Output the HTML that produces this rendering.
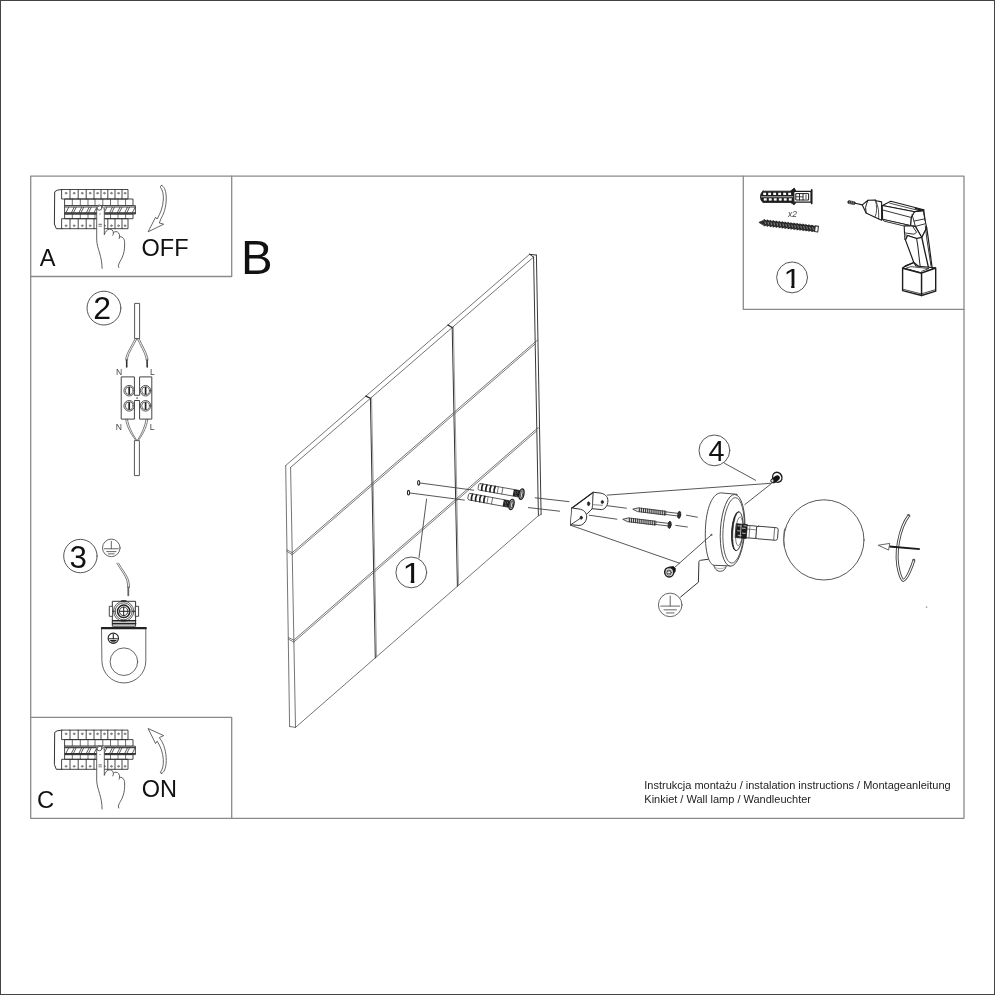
<!DOCTYPE html>
<html lang="pl"><head><meta charset="utf-8"><title>Instrukcja montażu</title>
<style>
html,body{margin:0;padding:0;background:#fff;}
body{width:995px;height:995px;overflow:hidden;position:relative;}
#page{position:absolute;left:0;top:0;width:995px;height:995px;box-sizing:border-box;border:1px solid #444;pointer-events:none;}
svg{display:block;font-family:"Liberation Sans",Arial,sans-serif;will-change:transform;}
</style></head><body>
<svg width="995" height="995" viewBox="0 0 995 995" stroke-linecap="round" stroke-linejoin="round">
<rect width="995" height="995" fill="#fff"/>
<rect x="30.7" y="176.2" width="933.3" height="642.1" fill="none" stroke="#8a8a8a" stroke-width="1.3"/>
<path d="M30.7 276.5 L231.7 276.5 L231.7 176.2" stroke="#8a8a8a" stroke-width="1.3" fill="none" />
<path d="M30.7 717.4 L231.7 717.4 L231.7 818.3" stroke="#8a8a8a" stroke-width="1.3" fill="none" />
<path d="M743.3 176.2 L743.3 309.4 L964.0 309.4" stroke="#8a8a8a" stroke-width="1.3" fill="none" />
<text x="39.8" y="265.9" font-size="23.6" fill="#111" text-anchor="start" >A</text>
<text x="36.9" y="808.0" font-size="23.8" fill="#111" text-anchor="start" >C</text>
<text transform="translate(241.1 273.9) scale(0.965 1)" font-size="49" fill="#111">B</text>
<text x="141.5" y="256.2" font-size="23.5" fill="#111" text-anchor="start" >OFF</text>
<text x="141.8" y="796.9" font-size="23.5" fill="#111" text-anchor="start" >ON</text>
<text x="644.3" y="788.6" font-size="11" fill="#222" text-anchor="start" >Instrukcja montażu / instalation instructions / Montageanleitung</text>
<text x="644.3" y="803.1" font-size="11" fill="#222" text-anchor="start" >Kinkiet / Wall lamp / Wandleuchter</text>
<circle class="nc" cx="103.95" cy="308.1" r="16.9" stroke="#555" stroke-width="1" fill="none"/>
<text transform="translate(93.3 318.9) scale(1.0 1)" font-size="32" fill="#111" >2</text>
<circle class="nc" cx="80.4" cy="556.05" r="16.7" stroke="#555" stroke-width="1" fill="none"/>
<text transform="translate(69.45 567.8) scale(1.0 1)" font-size="31.3" fill="#111" >3</text>
<circle class="nc" cx="411.3" cy="572.4" r="15.4" stroke="#555" stroke-width="1" fill="none"/>
<clipPath id="c1w"><rect x="0" y="-23.04" width="17.28" height="20.16"/><rect x="6.91" y="-3.17" width="3.02" height="3.47"/></clipPath>
<text transform="translate(402.5 582.8) scale(1.19 1)" font-size="28.8" fill="#111" clip-path="url(#c1w)">1</text>
<circle class="nc" cx="714.4" cy="450.4" r="15.4" stroke="#555" stroke-width="1" fill="none"/>
<text transform="translate(708.5 460.8) scale(1.0 1)" font-size="28.8" fill="#111" >4</text>
<circle class="nc" cx="792.1" cy="277.4" r="15.45" stroke="#555" stroke-width="1" fill="none"/>
<clipPath id="c1b"><rect x="0" y="-22.80" width="17.10" height="19.95"/><rect x="6.84" y="-3.14" width="2.99" height="3.44"/></clipPath>
<text transform="translate(783.45 287.8) scale(1.126 1)" font-size="28.5" fill="#111" clip-path="url(#c1b)">1</text>
<path d="M62 189.5 L57.2 190.2 L54.7 191.8 L54.4 224 L56.3 228.7 L62 228.7" stroke="#333" stroke-width="1.0" fill="none" />
<rect x="62" y="189.5" width="66" height="9.5" fill="none" stroke="#333" stroke-width="0.9"/>
<line x1="70" y1="189.5" x2="70" y2="199" stroke="#333" stroke-width="0.9" />
<line x1="78.2" y1="189.5" x2="78.2" y2="199" stroke="#333" stroke-width="0.9" />
<line x1="86.2" y1="189.5" x2="86.2" y2="199" stroke="#333" stroke-width="0.9" />
<line x1="94" y1="189.5" x2="94" y2="199" stroke="#333" stroke-width="0.9" />
<line x1="101" y1="189.5" x2="101" y2="199" stroke="#333" stroke-width="0.9" />
<line x1="107.8" y1="189.5" x2="107.8" y2="199" stroke="#333" stroke-width="0.9" />
<line x1="115" y1="189.5" x2="115" y2="199" stroke="#333" stroke-width="0.9" />
<line x1="122" y1="189.5" x2="122" y2="199" stroke="#333" stroke-width="0.9" />
<circle cx="66.0" cy="193.2" r="0.9" stroke="#666" stroke-width="0.6" fill="#999"/>
<circle cx="74.1" cy="193.2" r="0.9" stroke="#666" stroke-width="0.6" fill="#999"/>
<circle cx="82.2" cy="193.2" r="0.9" stroke="#666" stroke-width="0.6" fill="#999"/>
<circle cx="90.1" cy="193.2" r="0.9" stroke="#666" stroke-width="0.6" fill="#999"/>
<circle cx="97.5" cy="193.2" r="0.9" stroke="#666" stroke-width="0.6" fill="#999"/>
<circle cx="104.4" cy="193.2" r="0.9" stroke="#666" stroke-width="0.6" fill="#999"/>
<circle cx="111.4" cy="193.2" r="0.9" stroke="#666" stroke-width="0.6" fill="#999"/>
<circle cx="118.5" cy="193.2" r="0.9" stroke="#666" stroke-width="0.6" fill="#999"/>
<circle cx="125.0" cy="193.2" r="0.9" stroke="#666" stroke-width="0.6" fill="#999"/>
<rect x="65" y="199" width="68" height="6.6" fill="none" stroke="#333" stroke-width="0.9"/>
<line x1="72.3" y1="199" x2="72.3" y2="205.6" stroke="#333" stroke-width="0.7" />
<line x1="80.3" y1="199" x2="80.3" y2="205.6" stroke="#333" stroke-width="0.7" />
<line x1="88" y1="199" x2="88" y2="205.6" stroke="#333" stroke-width="0.7" />
<line x1="95" y1="199" x2="95" y2="205.6" stroke="#333" stroke-width="0.7" />
<line x1="102.8" y1="199" x2="102.8" y2="205.6" stroke="#333" stroke-width="0.7" />
<line x1="110.5" y1="199" x2="110.5" y2="205.6" stroke="#333" stroke-width="0.7" />
<line x1="118" y1="199" x2="118" y2="205.6" stroke="#333" stroke-width="0.7" />
<line x1="125.6" y1="199" x2="125.6" y2="205.6" stroke="#333" stroke-width="0.7" />
<rect x="65" y="205.6" width="70.4" height="8.4" fill="#fff" stroke="#333" stroke-width="0.9"/>
<line x1="65" y1="207.0" x2="135.4" y2="207.0" stroke="#444" stroke-width="1.2" />
<line x1="65" y1="213.0" x2="135.4" y2="213.0" stroke="#333" stroke-width="1.4" />
<line x1="66" y1="212.6" x2="68.6" y2="207.4" stroke="#333" stroke-width="0.8" />
<line x1="71.5" y1="212.6" x2="74.1" y2="207.4" stroke="#333" stroke-width="0.8" />
<line x1="73.5" y1="212.6" x2="76.1" y2="207.4" stroke="#333" stroke-width="0.8" />
<line x1="79.0" y1="212.6" x2="81.6" y2="207.4" stroke="#333" stroke-width="0.8" />
<line x1="81" y1="212.6" x2="83.6" y2="207.4" stroke="#333" stroke-width="0.8" />
<line x1="86.5" y1="212.6" x2="89.1" y2="207.4" stroke="#333" stroke-width="0.8" />
<line x1="88.6" y1="212.6" x2="91.19999999999999" y2="207.4" stroke="#333" stroke-width="0.8" />
<line x1="94.1" y1="212.6" x2="96.69999999999999" y2="207.4" stroke="#333" stroke-width="0.8" />
<line x1="104.2" y1="212.6" x2="106.8" y2="207.4" stroke="#333" stroke-width="0.8" />
<line x1="109.7" y1="212.6" x2="112.3" y2="207.4" stroke="#333" stroke-width="0.8" />
<line x1="111.8" y1="212.6" x2="114.39999999999999" y2="207.4" stroke="#333" stroke-width="0.8" />
<line x1="117.3" y1="212.6" x2="119.89999999999999" y2="207.4" stroke="#333" stroke-width="0.8" />
<line x1="119.3" y1="212.6" x2="121.89999999999999" y2="207.4" stroke="#333" stroke-width="0.8" />
<line x1="124.8" y1="212.6" x2="127.39999999999999" y2="207.4" stroke="#333" stroke-width="0.8" />
<line x1="126.9" y1="212.6" x2="129.5" y2="207.4" stroke="#333" stroke-width="0.8" />
<line x1="132.4" y1="212.6" x2="135.0" y2="207.4" stroke="#333" stroke-width="0.8" />
<rect x="65" y="214" width="68" height="4.7" fill="none" stroke="#333" stroke-width="0.9"/>
<line x1="72.3" y1="214" x2="72.3" y2="218.7" stroke="#333" stroke-width="0.7" />
<line x1="80.3" y1="214" x2="80.3" y2="218.7" stroke="#333" stroke-width="0.7" />
<line x1="88" y1="214" x2="88" y2="218.7" stroke="#333" stroke-width="0.7" />
<line x1="95" y1="214" x2="95" y2="218.7" stroke="#333" stroke-width="0.7" />
<line x1="102.8" y1="214" x2="102.8" y2="218.7" stroke="#333" stroke-width="0.7" />
<line x1="110.5" y1="214" x2="110.5" y2="218.7" stroke="#333" stroke-width="0.7" />
<line x1="118" y1="214" x2="118" y2="218.7" stroke="#333" stroke-width="0.7" />
<line x1="125.6" y1="214" x2="125.6" y2="218.7" stroke="#333" stroke-width="0.7" />
<rect x="62" y="218.7" width="66" height="10" fill="none" stroke="#333" stroke-width="0.9"/>
<line x1="70" y1="218.7" x2="70" y2="228.7" stroke="#333" stroke-width="0.9" />
<line x1="78.2" y1="218.7" x2="78.2" y2="228.7" stroke="#333" stroke-width="0.9" />
<line x1="86.2" y1="218.7" x2="86.2" y2="228.7" stroke="#333" stroke-width="0.9" />
<line x1="94" y1="218.7" x2="94" y2="228.7" stroke="#333" stroke-width="0.9" />
<line x1="101" y1="218.7" x2="101" y2="228.7" stroke="#333" stroke-width="0.9" />
<line x1="107.8" y1="218.7" x2="107.8" y2="228.7" stroke="#333" stroke-width="0.9" />
<line x1="115" y1="218.7" x2="115" y2="228.7" stroke="#333" stroke-width="0.9" />
<line x1="122" y1="218.7" x2="122" y2="228.7" stroke="#333" stroke-width="0.9" />
<circle cx="66.0" cy="225.7" r="0.9" stroke="#666" stroke-width="0.6" fill="#999"/>
<circle cx="74.1" cy="225.7" r="0.9" stroke="#666" stroke-width="0.6" fill="#999"/>
<circle cx="82.2" cy="225.7" r="0.9" stroke="#666" stroke-width="0.6" fill="#999"/>
<circle cx="90.1" cy="225.7" r="0.9" stroke="#666" stroke-width="0.6" fill="#999"/>
<circle cx="97.5" cy="225.7" r="0.9" stroke="#666" stroke-width="0.6" fill="#999"/>
<circle cx="104.4" cy="225.7" r="0.9" stroke="#666" stroke-width="0.6" fill="#999"/>
<circle cx="111.4" cy="225.7" r="0.9" stroke="#666" stroke-width="0.6" fill="#999"/>
<circle cx="118.5" cy="225.7" r="0.9" stroke="#666" stroke-width="0.6" fill="#999"/>
<circle cx="125.0" cy="225.7" r="0.9" stroke="#666" stroke-width="0.6" fill="#999"/>
<path d="M96.7 206 L96.7 240.3 C97 245 98.2 248.3 99.6 253 C101 258 102 262 102.1 268.4 L118.8 267.4 L118.3 265.4 C119.5 262 121 260 122.2 257.5 C124 253 124.5 250 124.6 246 L124.6 242.3 C124.6 238.5 122.5 236.3 120.4 236.5 L119.6 236.8 C119.6 233.5 118 231.6 116 231.6 C114.8 231.6 114.2 232 113.6 232.6 C113.2 230.3 111.6 229 109.6 229.2 C107 229.5 105.3 231.5 104.3 234.8 L104.3 206 Z" fill="#fff" stroke="none"/>
<path d="M96.7 209 L96.7 240.3 C97 245 98.2 248.3 99.6 253 C101 258 102 262 102.1 268.4" stroke="#444" stroke-width="0.85" fill="none" />
<path d="M104.3 209 L104.3 234.8 C105.3 231.5 107 229.5 109.6 229.2 C111.6 229 113.4 230.5 113.4 233 C113.4 234 113.1 234.8 112.8 235.3" stroke="#444" stroke-width="0.85" fill="none" />
<path d="M113.6 232.6 C114.2 232 114.8 231.6 116 231.6 C118.2 231.6 119.8 233.8 119.6 236.8 C119.5 237.6 119.3 238.2 119.1 238.6" stroke="#444" stroke-width="0.85" fill="none" />
<path d="M119.6 236.8 C121.5 236 124.6 238 124.6 242.3 L124.6 246 C124.5 250 124 253 122.2 257.5 C121 260 119.5 262 118.3 265.4 L118.8 267.4" stroke="#444" stroke-width="0.85" fill="none" />
<circle cx="99.4" cy="207.6" r="2.6" stroke="#444" stroke-width="0.9" fill="#fff"/>
<path d="M96.7 209 C96.6 204.5 104.4 204.5 104.3 209" stroke="#444" stroke-width="0.85" fill="none" />
<line x1="99.6" y1="214" x2="100.6" y2="214" stroke="#777" stroke-width="0.7" />
<line x1="98.9" y1="224.3" x2="101.5" y2="224.3" stroke="#555" stroke-width="0.9" />
<line x1="98.9" y1="226.2" x2="101.5" y2="226.2" stroke="#666" stroke-width="0.8" />
<path d="M62 730.1 L57.2 730.8 L54.7 732.4000000000001 L54.4 764.6 L56.3 769.3 L62 769.3" stroke="#333" stroke-width="1.0" fill="none" />
<rect x="62" y="730.1" width="66" height="9.5" fill="none" stroke="#333" stroke-width="0.9"/>
<line x1="70" y1="730.1" x2="70" y2="739.6" stroke="#333" stroke-width="0.9" />
<line x1="78.2" y1="730.1" x2="78.2" y2="739.6" stroke="#333" stroke-width="0.9" />
<line x1="86.2" y1="730.1" x2="86.2" y2="739.6" stroke="#333" stroke-width="0.9" />
<line x1="94" y1="730.1" x2="94" y2="739.6" stroke="#333" stroke-width="0.9" />
<line x1="101" y1="730.1" x2="101" y2="739.6" stroke="#333" stroke-width="0.9" />
<line x1="107.8" y1="730.1" x2="107.8" y2="739.6" stroke="#333" stroke-width="0.9" />
<line x1="115" y1="730.1" x2="115" y2="739.6" stroke="#333" stroke-width="0.9" />
<line x1="122" y1="730.1" x2="122" y2="739.6" stroke="#333" stroke-width="0.9" />
<circle cx="66.0" cy="733.8" r="0.9" stroke="#666" stroke-width="0.6" fill="#999"/>
<circle cx="74.1" cy="733.8" r="0.9" stroke="#666" stroke-width="0.6" fill="#999"/>
<circle cx="82.2" cy="733.8" r="0.9" stroke="#666" stroke-width="0.6" fill="#999"/>
<circle cx="90.1" cy="733.8" r="0.9" stroke="#666" stroke-width="0.6" fill="#999"/>
<circle cx="97.5" cy="733.8" r="0.9" stroke="#666" stroke-width="0.6" fill="#999"/>
<circle cx="104.4" cy="733.8" r="0.9" stroke="#666" stroke-width="0.6" fill="#999"/>
<circle cx="111.4" cy="733.8" r="0.9" stroke="#666" stroke-width="0.6" fill="#999"/>
<circle cx="118.5" cy="733.8" r="0.9" stroke="#666" stroke-width="0.6" fill="#999"/>
<circle cx="125.0" cy="733.8" r="0.9" stroke="#666" stroke-width="0.6" fill="#999"/>
<rect x="65" y="739.6" width="68" height="6.6" fill="none" stroke="#333" stroke-width="0.9"/>
<line x1="72.3" y1="739.6" x2="72.3" y2="746.2" stroke="#333" stroke-width="0.7" />
<line x1="80.3" y1="739.6" x2="80.3" y2="746.2" stroke="#333" stroke-width="0.7" />
<line x1="88" y1="739.6" x2="88" y2="746.2" stroke="#333" stroke-width="0.7" />
<line x1="95" y1="739.6" x2="95" y2="746.2" stroke="#333" stroke-width="0.7" />
<line x1="102.8" y1="739.6" x2="102.8" y2="746.2" stroke="#333" stroke-width="0.7" />
<line x1="110.5" y1="739.6" x2="110.5" y2="746.2" stroke="#333" stroke-width="0.7" />
<line x1="118" y1="739.6" x2="118" y2="746.2" stroke="#333" stroke-width="0.7" />
<line x1="125.6" y1="739.6" x2="125.6" y2="746.2" stroke="#333" stroke-width="0.7" />
<rect x="65" y="746.2" width="70.4" height="8.4" fill="#fff" stroke="#333" stroke-width="0.9"/>
<line x1="65" y1="747.6" x2="135.4" y2="747.6" stroke="#444" stroke-width="1.2" />
<line x1="65" y1="753.6" x2="135.4" y2="753.6" stroke="#333" stroke-width="1.4" />
<line x1="66" y1="753.2" x2="68.6" y2="748.0" stroke="#333" stroke-width="0.8" />
<line x1="71.5" y1="753.2" x2="74.1" y2="748.0" stroke="#333" stroke-width="0.8" />
<line x1="73.5" y1="753.2" x2="76.1" y2="748.0" stroke="#333" stroke-width="0.8" />
<line x1="79.0" y1="753.2" x2="81.6" y2="748.0" stroke="#333" stroke-width="0.8" />
<line x1="81" y1="753.2" x2="83.6" y2="748.0" stroke="#333" stroke-width="0.8" />
<line x1="86.5" y1="753.2" x2="89.1" y2="748.0" stroke="#333" stroke-width="0.8" />
<line x1="88.6" y1="753.2" x2="91.19999999999999" y2="748.0" stroke="#333" stroke-width="0.8" />
<line x1="94.1" y1="753.2" x2="96.69999999999999" y2="748.0" stroke="#333" stroke-width="0.8" />
<line x1="104.2" y1="753.2" x2="106.8" y2="748.0" stroke="#333" stroke-width="0.8" />
<line x1="109.7" y1="753.2" x2="112.3" y2="748.0" stroke="#333" stroke-width="0.8" />
<line x1="111.8" y1="753.2" x2="114.39999999999999" y2="748.0" stroke="#333" stroke-width="0.8" />
<line x1="117.3" y1="753.2" x2="119.89999999999999" y2="748.0" stroke="#333" stroke-width="0.8" />
<line x1="119.3" y1="753.2" x2="121.89999999999999" y2="748.0" stroke="#333" stroke-width="0.8" />
<line x1="124.8" y1="753.2" x2="127.39999999999999" y2="748.0" stroke="#333" stroke-width="0.8" />
<line x1="126.9" y1="753.2" x2="129.5" y2="748.0" stroke="#333" stroke-width="0.8" />
<line x1="132.4" y1="753.2" x2="135.0" y2="748.0" stroke="#333" stroke-width="0.8" />
<rect x="65" y="754.6" width="68" height="4.7" fill="none" stroke="#333" stroke-width="0.9"/>
<line x1="72.3" y1="754.6" x2="72.3" y2="759.3" stroke="#333" stroke-width="0.7" />
<line x1="80.3" y1="754.6" x2="80.3" y2="759.3" stroke="#333" stroke-width="0.7" />
<line x1="88" y1="754.6" x2="88" y2="759.3" stroke="#333" stroke-width="0.7" />
<line x1="95" y1="754.6" x2="95" y2="759.3" stroke="#333" stroke-width="0.7" />
<line x1="102.8" y1="754.6" x2="102.8" y2="759.3" stroke="#333" stroke-width="0.7" />
<line x1="110.5" y1="754.6" x2="110.5" y2="759.3" stroke="#333" stroke-width="0.7" />
<line x1="118" y1="754.6" x2="118" y2="759.3" stroke="#333" stroke-width="0.7" />
<line x1="125.6" y1="754.6" x2="125.6" y2="759.3" stroke="#333" stroke-width="0.7" />
<rect x="62" y="759.3" width="66" height="10" fill="none" stroke="#333" stroke-width="0.9"/>
<line x1="70" y1="759.3" x2="70" y2="769.3" stroke="#333" stroke-width="0.9" />
<line x1="78.2" y1="759.3" x2="78.2" y2="769.3" stroke="#333" stroke-width="0.9" />
<line x1="86.2" y1="759.3" x2="86.2" y2="769.3" stroke="#333" stroke-width="0.9" />
<line x1="94" y1="759.3" x2="94" y2="769.3" stroke="#333" stroke-width="0.9" />
<line x1="101" y1="759.3" x2="101" y2="769.3" stroke="#333" stroke-width="0.9" />
<line x1="107.8" y1="759.3" x2="107.8" y2="769.3" stroke="#333" stroke-width="0.9" />
<line x1="115" y1="759.3" x2="115" y2="769.3" stroke="#333" stroke-width="0.9" />
<line x1="122" y1="759.3" x2="122" y2="769.3" stroke="#333" stroke-width="0.9" />
<circle cx="66.0" cy="766.3" r="0.9" stroke="#666" stroke-width="0.6" fill="#999"/>
<circle cx="74.1" cy="766.3" r="0.9" stroke="#666" stroke-width="0.6" fill="#999"/>
<circle cx="82.2" cy="766.3" r="0.9" stroke="#666" stroke-width="0.6" fill="#999"/>
<circle cx="90.1" cy="766.3" r="0.9" stroke="#666" stroke-width="0.6" fill="#999"/>
<circle cx="97.5" cy="766.3" r="0.9" stroke="#666" stroke-width="0.6" fill="#999"/>
<circle cx="104.4" cy="766.3" r="0.9" stroke="#666" stroke-width="0.6" fill="#999"/>
<circle cx="111.4" cy="766.3" r="0.9" stroke="#666" stroke-width="0.6" fill="#999"/>
<circle cx="118.5" cy="766.3" r="0.9" stroke="#666" stroke-width="0.6" fill="#999"/>
<circle cx="125.0" cy="766.3" r="0.9" stroke="#666" stroke-width="0.6" fill="#999"/>
<path d="M96.7 746.6 L96.7 780.9000000000001 C97 785.6 98.2 788.9000000000001 99.6 793.6 C101 798.6 102 802.6 102.1 809.0 L118.8 808.0 L118.3 806.0 C119.5 802.6 121 800.6 122.2 798.1 C124 793.6 124.5 790.6 124.6 786.6 L124.6 782.9000000000001 C124.6 779.1 122.5 776.9000000000001 120.4 777.1 L119.6 777.4000000000001 C119.6 774.1 118 772.2 116 772.2 C114.8 772.2 114.2 772.6 113.6 773.2 C113.2 770.9000000000001 111.6 769.6 109.6 769.8 C107 770.1 105.3 772.1 104.3 775.4000000000001 L104.3 746.6 Z" fill="#fff" stroke="none"/>
<path d="M96.7 749.6 L96.7 780.9000000000001 C97 785.6 98.2 788.9000000000001 99.6 793.6 C101 798.6 102 802.6 102.1 809.0" stroke="#444" stroke-width="0.85" fill="none" />
<path d="M104.3 749.6 L104.3 775.4000000000001 C105.3 772.1 107 770.1 109.6 769.8 C111.6 769.6 113.4 771.1 113.4 773.6 C113.4 774.6 113.1 775.4000000000001 112.8 775.9000000000001" stroke="#444" stroke-width="0.85" fill="none" />
<path d="M113.6 773.2 C114.2 772.6 114.8 772.2 116 772.2 C118.2 772.2 119.8 774.4000000000001 119.6 777.4000000000001 C119.5 778.2 119.3 778.8 119.1 779.2" stroke="#444" stroke-width="0.85" fill="none" />
<path d="M119.6 777.4000000000001 C121.5 776.6 124.6 778.6 124.6 782.9000000000001 L124.6 786.6 C124.5 790.6 124 793.6 122.2 798.1 C121 800.6 119.5 802.6 118.3 806.0 L118.8 808.0" stroke="#444" stroke-width="0.85" fill="none" />
<circle cx="99.4" cy="748.2" r="2.6" stroke="#444" stroke-width="0.9" fill="#fff"/>
<path d="M96.7 749.6 C96.6 745.1 104.4 745.1 104.3 749.6" stroke="#444" stroke-width="0.85" fill="none" />
<line x1="99.6" y1="754.6" x2="100.6" y2="754.6" stroke="#777" stroke-width="0.7" />
<line x1="98.9" y1="764.9000000000001" x2="101.5" y2="764.9000000000001" stroke="#555" stroke-width="0.9" />
<line x1="98.9" y1="766.8" x2="101.5" y2="766.8" stroke="#666" stroke-width="0.8" />
<path d="M161.7 185.5 C164.2 186.5 165.6 190 166.1 195 C166.8 203 165 212 161.2 218.2 L159.3 223 L163.7 224.2 L148.1 231.8 L155.6 217.2 L157.1 219 C160.4 213.5 162.9 207 163.3 200 C163.6 194.5 162.8 190.5 160.6 187.6 C160.1 186.2 160.6 185.4 161.7 185.5 Z" stroke="#555" stroke-width="0.9" fill="#fff" />
<path d="M161.7 773.3 C164.2 772.5 165.6 768.5 166.1 763.5 C166.8 755.5 165 746.5 161.2 740.3 L159.3 737.6 L163.7 735.6 L148.1 728.5 L155.6 743.6 L157.1 741.1 C160.4 746 162.9 752.5 163.3 759.5 C163.6 765 162.8 769 160.6 771.9 C160.1 773 160.6 773.5 161.7 773.3 Z" stroke="#555" stroke-width="0.9" fill="#fff" />
<rect x="135" y="303.4" width="4.6" height="35.2" fill="#fff" stroke="#444" stroke-width="0.9"/>
<path d="M135.0 339 C132.1 345 127.1 352 125.8 358 L125.8 360" stroke="#444" stroke-width="0.7" fill="none" />
<path d="M139.3 339 C141.9 345 146.4 352 147.8 358 L147.9 360" stroke="#444" stroke-width="0.7" fill="none" />
<path d="M136.8 339 C133.9 345 128.9 352 127.60000000000001 358 L127.60000000000001 360" stroke="#444" stroke-width="0.7" fill="none" />
<path d="M137.5 339 C140.1 345 144.6 352 146.0 358 L146.1 360" stroke="#444" stroke-width="0.7" fill="none" />
<line x1="126.7" y1="360" x2="126.7" y2="367" stroke="#333" stroke-width="1.6" />
<line x1="147.1" y1="360" x2="147.2" y2="367" stroke="#333" stroke-width="1.6" />
<text x="116" y="375.2" font-size="8.6" fill="#444" text-anchor="start" >N</text>
<text x="150" y="375.2" font-size="8.6" fill="#444" text-anchor="start" >L</text>
<text x="115.8" y="430" font-size="8.6" fill="#444" text-anchor="start" >N</text>
<text x="149.7" y="430" font-size="8.6" fill="#444" text-anchor="start" >L</text>
<path d="M121.6 376.9 H134.4 V395.3 H139.6 V376.9 H151.8 V419.1 H139.6 V400.5 H134.4 V419.1 H121.6 Z" stroke="#444" stroke-width="1.0" fill="none" />
<circle cx="137" cy="398" r="0.5" stroke="#555" stroke-width="0.5" fill="#555"/>
<circle cx="129.2" cy="390.7" r="5.3" stroke="#444" stroke-width="0.9" fill="none"/>
<circle cx="129.2" cy="390.7" r="3.9" stroke="#444" stroke-width="0.8" fill="none"/>
<line x1="129.2" y1="387.7" x2="129.2" y2="393.7" stroke="#222" stroke-width="1.7" />
<circle cx="129.2" cy="405.8" r="5.3" stroke="#444" stroke-width="0.9" fill="none"/>
<circle cx="129.2" cy="405.8" r="3.9" stroke="#444" stroke-width="0.8" fill="none"/>
<line x1="129.2" y1="402.8" x2="129.2" y2="408.8" stroke="#222" stroke-width="1.7" />
<circle cx="145.6" cy="390.7" r="5.3" stroke="#444" stroke-width="0.9" fill="none"/>
<circle cx="145.6" cy="390.7" r="3.9" stroke="#444" stroke-width="0.8" fill="none"/>
<line x1="145.6" y1="387.7" x2="145.6" y2="393.7" stroke="#222" stroke-width="1.7" />
<circle cx="145.6" cy="405.8" r="5.3" stroke="#444" stroke-width="0.9" fill="none"/>
<circle cx="145.6" cy="405.8" r="3.9" stroke="#444" stroke-width="0.8" fill="none"/>
<line x1="145.6" y1="402.8" x2="145.6" y2="408.8" stroke="#222" stroke-width="1.7" />
<path d="M125.69999999999999 419.3 C126.6 426 130.1 433 135.46 440" stroke="#444" stroke-width="0.7" fill="none" />
<path d="M147.8 419.3 C146.9 426 143.9 433 138.73999999999998 440" stroke="#444" stroke-width="0.7" fill="none" />
<path d="M127.5 419.3 C128.4 426 131.9 433 136.54 440" stroke="#444" stroke-width="0.7" fill="none" />
<path d="M146.0 419.3 C145.1 426 142.1 433 137.66 440" stroke="#444" stroke-width="0.7" fill="none" />
<rect x="134.8" y="440.6" width="4.6" height="35" fill="#fff" stroke="#444" stroke-width="0.9"/>
<circle cx="111.3" cy="547.9" r="8.8" stroke="#555" stroke-width="0.9" fill="none"/>
<line x1="111.3" y1="541.3" x2="111.3" y2="548.78" stroke="#555" stroke-width="0.9" />
<line x1="104.25999999999999" y1="548.78" x2="118.34" y2="548.78" stroke="#555" stroke-width="0.9" />
<line x1="106.636" y1="551.596" x2="115.964" y2="551.596" stroke="#555" stroke-width="0.9" />
<line x1="108.396" y1="553.884" x2="114.204" y2="553.884" stroke="#555" stroke-width="0.9" />
<path d="M116.8 563.2 C120.1 569 125.1 575 126.69999999999999 580 C127.5 583 127.69999999999999 585 127.69999999999999 587.5" stroke="#444" stroke-width="0.7" fill="none" />
<path d="M118.60000000000001 563.2 C121.9 569 126.9 575 128.5 580 C129.3 583 129.5 585 129.5 587.5" stroke="#444" stroke-width="0.7" fill="none" />
<line x1="128.3" y1="587.5" x2="128.3" y2="595.3" stroke="#666" stroke-width="1.8" />
<rect x="112.7" y="601.3" width="22.9" height="24.9" fill="#fff" stroke="#333" stroke-width="1"/>
<rect x="109.7" y="606.3" width="3" height="10" fill="#fff" stroke="#333" stroke-width="0.9"/>
<rect x="135.6" y="606.3" width="3" height="10" fill="#fff" stroke="#333" stroke-width="0.9"/>
<circle cx="123.7" cy="611.3" r="10.1" stroke="#333" stroke-width="0.8" fill="none"/>
<circle cx="123.7" cy="611.3" r="8.5" stroke="#333" stroke-width="0.8" fill="none"/>
<circle cx="123.7" cy="611.3" r="6.2" stroke="#222" stroke-width="1.5" fill="none"/>
<circle cx="123.7" cy="611.3" r="4.3" stroke="#222" stroke-width="0.9" fill="none"/>
<line x1="119.4" y1="611.3" x2="128" y2="611.3" stroke="#222" stroke-width="1" />
<line x1="123.7" y1="607" x2="123.7" y2="615.6" stroke="#222" stroke-width="1" />
<line x1="112.7" y1="611.3" x2="115.2" y2="611.3" stroke="#333" stroke-width="0.9" />
<line x1="132.2" y1="611.3" x2="135.6" y2="611.3" stroke="#333" stroke-width="0.9" />
<line x1="121.5" y1="600.9" x2="126" y2="600.9" stroke="#222" stroke-width="1.4" />
<line x1="112.7" y1="620.7" x2="135.6" y2="620.7" stroke="#222" stroke-width="1.4" />
<line x1="112.7" y1="623.6" x2="135.6" y2="623.6" stroke="#222" stroke-width="1.6" />
<path d="M101.9 628.2 H145.8 V661 A21.95 21.95 0 0 1 101.9 661 Z" stroke="#555" stroke-width="0.9" fill="#fff" />
<line x1="101.9" y1="628.2" x2="145.8" y2="628.2" stroke="#222" stroke-width="2.2" />
<circle cx="123.9" cy="661.7" r="13.8" stroke="#555" stroke-width="0.9" fill="none"/>
<circle cx="113.3" cy="638.3" r="5.2" stroke="#222" stroke-width="1.1" fill="none"/>
<line x1="113.3" y1="634.4" x2="113.3" y2="638.8199999999999" stroke="#222" stroke-width="1.1" />
<line x1="109.14" y1="638.8199999999999" x2="117.46" y2="638.8199999999999" stroke="#222" stroke-width="1.1" />
<line x1="110.544" y1="640.4839999999999" x2="116.056" y2="640.4839999999999" stroke="#222" stroke-width="1.1" />
<line x1="111.584" y1="641.8359999999999" x2="115.01599999999999" y2="641.8359999999999" stroke="#222" stroke-width="1.1" />
<path d="M285.7 465.5 L529.6 254.3" stroke="#5c5c5c" stroke-width="0.85" fill="none" />
<path d="M290.6 467.4 L533.6 257.1" stroke="#5c5c5c" stroke-width="0.85" fill="none" />
<path d="M529.6 254.3 L536.4 255.1" stroke="#333" stroke-width="1.0" fill="none" />
<path d="M529.6 254.3 L533.6 257.1" stroke="#333" stroke-width="1.0" fill="none" />
<path d="M533.6 257.1 L538.4 515.7" stroke="#3a3a3a" stroke-width="1.0" fill="none" />
<path d="M536.4 255.1 L541.1 514.4" stroke="#3a3a3a" stroke-width="1.0" fill="none" />
<path d="M538.4 515.7 L541.1 514.4" stroke="#5c5c5c" stroke-width="0.85" fill="none" />
<path d="M285.7 465.5 L289.6 726.5" stroke="#5c5c5c" stroke-width="0.85" fill="none" />
<path d="M290.6 467.4 L295.5 727.4" stroke="#5c5c5c" stroke-width="0.85" fill="none" />
<path d="M289.6 726.5 L295.5 727.4" stroke="#5c5c5c" stroke-width="0.85" fill="none" />
<path d="M295.5 727.4 L538.4 515.7" stroke="#5c5c5c" stroke-width="0.85" fill="none" />
<path d="M365.8 396.1 L370.4 398.3" stroke="#222" stroke-width="1.2" fill="none" />
<path d="M370.4 398.3 L375.3 657.9" stroke="#333" stroke-width="1.0" fill="none" />
<path d="M371.6 397.3 L376.5 656.9" stroke="#777" stroke-width="0.7" fill="none" />
<path d="M447.9 325.1 L452.2 327.6" stroke="#222" stroke-width="1.2" fill="none" />
<path d="M452.2 327.6 L457.4 586.3" stroke="#333" stroke-width="1.0" fill="none" />
<path d="M453.4 326.6 L458.6 585.3" stroke="#777" stroke-width="0.7" fill="none" />
<path d="M292.2 552.7 L535.2 341.9" stroke="#5c5c5c" stroke-width="0.85" fill="none" />
<path d="M292.2 554.7 L535.2 343.9" stroke="#5c5c5c" stroke-width="0.8" fill="none" />
<path d="M287.0 551.4 L292.2 554.7" stroke="#5c5c5c" stroke-width="0.8" fill="none" />
<path d="M287.0 549.9 L292.2 552.7" stroke="#5c5c5c" stroke-width="0.8" fill="none" />
<path d="M535.2 341.9 L537.9 340.2" stroke="#5c5c5c" stroke-width="0.8" fill="none" />
<path d="M293.9 640.0 L536.8 428.8" stroke="#5c5c5c" stroke-width="0.85" fill="none" />
<path d="M293.9 642.0 L536.8 430.8" stroke="#5c5c5c" stroke-width="0.8" fill="none" />
<path d="M288.3 639.1 L293.9 642.0" stroke="#5c5c5c" stroke-width="0.8" fill="none" />
<path d="M288.3 637.6 L293.9 640.0" stroke="#5c5c5c" stroke-width="0.8" fill="none" />
<path d="M536.8 428.8 L539.5 427.3" stroke="#5c5c5c" stroke-width="0.8" fill="none" />
<ellipse cx="418.7" cy="482.8" rx="1.1" ry="2.3" stroke="#222" stroke-width="1.1" fill="#fff" />
<ellipse cx="408.5" cy="492.7" rx="1.1" ry="2.3" stroke="#222" stroke-width="1.1" fill="#fff" />
<line x1="420" y1="483" x2="473.7" y2="490.2" stroke="#444" stroke-width="0.9" />
<line x1="410" y1="493" x2="464.3" y2="500.1" stroke="#444" stroke-width="0.9" />
<line x1="426.6" y1="499" x2="419" y2="557.8" stroke="#444" stroke-width="0.9" />
<g transform="translate(478.4 486.6) rotate(9.97)">
<rect x="0" y="-3.3" width="42.19794367718113" height="6.6" rx="1.5" fill="#fff" stroke="#444" stroke-width="0.8"/>
<path d="M3.9 -3.0 Q3.0 0 3.9 3.0" fill="none" stroke="#222" stroke-width="1.7"/>
<path d="M8.1 -3.0 Q7.199999999999999 0 8.1 3.0" fill="none" stroke="#222" stroke-width="1.7"/>
<path d="M12.3 -3.0 Q11.4 0 12.3 3.0" fill="none" stroke="#222" stroke-width="1.7"/>
<path d="M16.5 -3.0 Q15.6 0 16.5 3.0" fill="none" stroke="#222" stroke-width="1.7"/>
<line x1="19.7" y1="-3.3" x2="19.7" y2="3.3" stroke="#666" stroke-width="0.8"/>
<line x1="24.3" y1="-3.3" x2="24.3" y2="3.3" stroke="#555" stroke-width="0.8"/>
<rect x="35.39794367718113" y="-3.3" width="6.6" height="6.6" fill="#1e1e1e"/>
<path d="M36.69794367718113 -1.5 L38.19794367718113 0.5 M38.89794367718113 -2 L40.19794367718113 -0.4 M37.59794367718113 1.8 L39.19794367718113 2.4" stroke="#888" stroke-width="0.6"/>
<ellipse cx="43.79794367718113" cy="0" rx="2.4" ry="5.3" fill="#aaa" stroke="#1e1e1e" stroke-width="1.2"/>
<ellipse cx="43.99794367718113" cy="0" rx="1.1" ry="3.6" fill="#ddd" stroke="#333" stroke-width="0.7"/>
</g>
<g transform="translate(468.2 496.4) rotate(10.54)">
<rect x="0" y="-3.3" width="42.483760605183384" height="6.6" rx="1.5" fill="#fff" stroke="#444" stroke-width="0.8"/>
<path d="M3.9 -3.0 Q3.0 0 3.9 3.0" fill="none" stroke="#222" stroke-width="1.7"/>
<path d="M8.1 -3.0 Q7.199999999999999 0 8.1 3.0" fill="none" stroke="#222" stroke-width="1.7"/>
<path d="M12.3 -3.0 Q11.4 0 12.3 3.0" fill="none" stroke="#222" stroke-width="1.7"/>
<path d="M16.5 -3.0 Q15.6 0 16.5 3.0" fill="none" stroke="#222" stroke-width="1.7"/>
<line x1="19.7" y1="-3.3" x2="19.7" y2="3.3" stroke="#666" stroke-width="0.8"/>
<line x1="24.3" y1="-3.3" x2="24.3" y2="3.3" stroke="#555" stroke-width="0.8"/>
<rect x="35.68376060518338" y="-3.3" width="6.6" height="6.6" fill="#1e1e1e"/>
<path d="M36.983760605183384 -1.5 L38.483760605183384 0.5 M39.18376060518339 -2 L40.483760605183384 -0.4 M37.88376060518338 1.8 L39.483760605183384 2.4" stroke="#888" stroke-width="0.6"/>
<ellipse cx="44.083760605183386" cy="0" rx="2.4" ry="5.3" fill="#aaa" stroke="#1e1e1e" stroke-width="1.2"/>
<ellipse cx="44.28376060518338" cy="0" rx="1.1" ry="3.6" fill="#ddd" stroke="#333" stroke-width="0.7"/>
</g>
<line x1="535.2" y1="497.8" x2="569.6" y2="501.7" stroke="#444" stroke-width="0.9" stroke-dasharray="34 6 40"/>
<line x1="528.4" y1="507.6" x2="559.6" y2="511.2" stroke="#444" stroke-width="0.9" />
<line x1="607.3" y1="495.1" x2="770.7" y2="483.3" stroke="#444" stroke-width="0.9" />
<line x1="570.7" y1="525.3" x2="679.6" y2="563.2" stroke="#444" stroke-width="0.9" />
<line x1="771.5" y1="483.5" x2="744.8" y2="504.6" stroke="#444" stroke-width="0.9" />
<line x1="724.4" y1="463.2" x2="755.6" y2="480.3" stroke="#444" stroke-width="0.9" />
<line x1="607.3" y1="505.7" x2="626.4" y2="508.2" stroke="#444" stroke-width="0.9" />
<line x1="589.2" y1="515.2" x2="616.9" y2="519.2" stroke="#444" stroke-width="0.9" />
<line x1="686.4" y1="515.2" x2="697.4" y2="517.2" stroke="#444" stroke-width="0.9" />
<line x1="675.8" y1="525.4" x2="687.4" y2="527.0" stroke="#444" stroke-width="0.9" />
<path d="M572.0 508.0 L593.3 492.3 L592.3 508.7 L586.7 514.2" stroke="#333" stroke-width="1.0" fill="none" />
<path d="M572.0 508.0 L570.7 524.8" stroke="#222" stroke-width="1.4" fill="none" />
<path d="M572.0 508.0 L593.3 492.3" stroke="#222" stroke-width="1.2" fill="none" />
<path d="M593.3 492.3 L599 492.9 C604.5 493.2 608 496.5 607.9 500.8 C607.8 505.5 604.8 509.6 601.5 509.6 L592.3 508.7" stroke="#333" stroke-width="1.0" fill="#fff" />
<line x1="593.3" y1="492.3" x2="592.3" y2="508.7" stroke="#555" stroke-width="0.9" />
<line x1="592.6" y1="504.7" x2="602.5" y2="505.3" stroke="#666" stroke-width="0.8" />
<ellipse cx="602.3" cy="502" rx="1.2" ry="1.6" stroke="#222" stroke-width="0.6" fill="#222" />
<ellipse cx="588.6" cy="503.7" rx="1.2" ry="2.0" stroke="#222" stroke-width="0.6" fill="#222" />
<path d="M572 508 L579 509 C584 509.6 586.9 513 586.7 517 C586.4 522 582.5 525.6 579 525.4 L570.7 524.8" stroke="#333" stroke-width="1.0" fill="#fff" />
<ellipse cx="581.2" cy="517.7" rx="1.2" ry="1.6" stroke="#222" stroke-width="0.6" fill="#222" />
<line x1="570.9" y1="524.6" x2="580.6" y2="518.2" stroke="#333" stroke-width="0.9" />
<g transform="translate(633.1 509.1) rotate(7.08)">
<path d="M0 0 L5 -1.9 L33 -1.9 L33 1.9 L5 1.9 Z" fill="#ddd" stroke="#333" stroke-width="0.8"/>
<line x1="6.0" y1="-1.9" x2="6.6" y2="1.9" stroke="#333" stroke-width="1.0"/>
<line x1="8.1" y1="-1.9" x2="8.7" y2="1.9" stroke="#333" stroke-width="1.0"/>
<line x1="10.2" y1="-1.9" x2="10.799999999999999" y2="1.9" stroke="#333" stroke-width="1.0"/>
<line x1="12.3" y1="-1.9" x2="12.9" y2="1.9" stroke="#333" stroke-width="1.0"/>
<line x1="14.4" y1="-1.9" x2="15.0" y2="1.9" stroke="#333" stroke-width="1.0"/>
<line x1="16.5" y1="-1.9" x2="17.1" y2="1.9" stroke="#333" stroke-width="1.0"/>
<line x1="18.6" y1="-1.9" x2="19.200000000000003" y2="1.9" stroke="#333" stroke-width="1.0"/>
<line x1="20.700000000000003" y1="-1.9" x2="21.300000000000004" y2="1.9" stroke="#333" stroke-width="1.0"/>
<line x1="22.8" y1="-1.9" x2="23.400000000000002" y2="1.9" stroke="#333" stroke-width="1.0"/>
<line x1="24.900000000000002" y1="-1.9" x2="25.500000000000004" y2="1.9" stroke="#333" stroke-width="1.0"/>
<line x1="27.0" y1="-1.9" x2="27.6" y2="1.9" stroke="#333" stroke-width="1.0"/>
<line x1="29.1" y1="-1.9" x2="29.700000000000003" y2="1.9" stroke="#333" stroke-width="1.0"/>
<line x1="31.200000000000003" y1="-1.9" x2="31.800000000000004" y2="1.9" stroke="#333" stroke-width="1.0"/>
<path d="M33 -1.3 L45.058793014695915 -1.3 M33 1.3 L45.058793014695915 1.3" fill="none" stroke="#333" stroke-width="0.8"/>
<ellipse cx="46.458793014695914" cy="0" rx="1.5" ry="3.6" fill="#333" stroke="#222" stroke-width="0.8"/>
</g>
<g transform="translate(623.1 519.2) rotate(6.90)">
<path d="M0 0 L5 -1.9 L33 -1.9 L33 1.9 L5 1.9 Z" fill="#ddd" stroke="#333" stroke-width="0.8"/>
<line x1="6.0" y1="-1.9" x2="6.6" y2="1.9" stroke="#333" stroke-width="1.0"/>
<line x1="8.1" y1="-1.9" x2="8.7" y2="1.9" stroke="#333" stroke-width="1.0"/>
<line x1="10.2" y1="-1.9" x2="10.799999999999999" y2="1.9" stroke="#333" stroke-width="1.0"/>
<line x1="12.3" y1="-1.9" x2="12.9" y2="1.9" stroke="#333" stroke-width="1.0"/>
<line x1="14.4" y1="-1.9" x2="15.0" y2="1.9" stroke="#333" stroke-width="1.0"/>
<line x1="16.5" y1="-1.9" x2="17.1" y2="1.9" stroke="#333" stroke-width="1.0"/>
<line x1="18.6" y1="-1.9" x2="19.200000000000003" y2="1.9" stroke="#333" stroke-width="1.0"/>
<line x1="20.700000000000003" y1="-1.9" x2="21.300000000000004" y2="1.9" stroke="#333" stroke-width="1.0"/>
<line x1="22.8" y1="-1.9" x2="23.400000000000002" y2="1.9" stroke="#333" stroke-width="1.0"/>
<line x1="24.900000000000002" y1="-1.9" x2="25.500000000000004" y2="1.9" stroke="#333" stroke-width="1.0"/>
<line x1="27.0" y1="-1.9" x2="27.6" y2="1.9" stroke="#333" stroke-width="1.0"/>
<line x1="29.1" y1="-1.9" x2="29.700000000000003" y2="1.9" stroke="#333" stroke-width="1.0"/>
<line x1="31.200000000000003" y1="-1.9" x2="31.800000000000004" y2="1.9" stroke="#333" stroke-width="1.0"/>
<path d="M33 -1.3 L45.4436507870126 -1.3 M33 1.3 L45.4436507870126 1.3" fill="none" stroke="#333" stroke-width="0.8"/>
<ellipse cx="46.8436507870126" cy="0" rx="1.5" ry="3.6" fill="#333" stroke="#222" stroke-width="0.8"/>
</g>
<ellipse cx="777.3" cy="477.3" rx="4.5" ry="5.1" transform="rotate(-25 777.3 477.3)" fill="#fff" stroke="#1e1e1e" stroke-width="1.5"/>
<line x1="777.2" y1="477.9" x2="773.6" y2="480.6" stroke="#111" stroke-width="5.2" />
<circle cx="772.5" cy="480.8" r="1.7" stroke="#222" stroke-width="1.0" fill="#ddd"/>
<path d="M669.3 567.1 L673.3 566.5 L675.3 568.3 L675.2 571.6 L672.5 574.0 Z" stroke="#111" stroke-width="0.8" fill="#111" />
<ellipse cx="669.2" cy="572.2" rx="4.5" ry="4.8" fill="#ddd" stroke="#1e1e1e" stroke-width="1.5"/>
<ellipse cx="669" cy="572.6" rx="2.2" ry="2.6" fill="#eee" stroke="#333" stroke-width="0.8"/>
<path d="M667.3 571.2 L670.8 571 M667.4 573.4 L670.6 573.6" stroke="#444" stroke-width="0.7"/>
<path d="M713.8 564.4 C714.2 569 717 571.4 720.4 571.3 C723.6 571.2 725.8 569 726.2 566.2" stroke="#3a3a3a" stroke-width="0.9" fill="#fff" />
<path d="M715.2 567.6 C718 569 722 569 725 567.6" stroke="#888" stroke-width="0.7" fill="none" />
<path d="M720.2 492.9 C711 494 705.3 512 705.3 533.9 C705.3 552 708.8 564.5 714.1 565.3 L731 565.9 L737 494.7 Z" stroke="#3a3a3a" stroke-width="0.9" fill="#fff" />
<g transform="rotate(3.5 732.6 530.3)">
<ellipse cx="732.6" cy="530.3" rx="12.2" ry="35.9" stroke="#3a3a3a" stroke-width="0.9" fill="#fff" />
<ellipse cx="733.6" cy="530.3" rx="10.6" ry="32.8" stroke="#3a3a3a" stroke-width="0.8" fill="none" />
</g>
<g transform="rotate(4 737.4 531.2)">
<ellipse cx="737.4" cy="531.2" rx="5.7" ry="19.6" stroke="#333" stroke-width="0.9" fill="#fff" />
<path d="M737.4 511.6 A5.7 19.6 0 0 0 737.4 550.8 A4.3 18.6 0 0 1 737.4 511.6 Z" stroke="#222" stroke-width="0.6" fill="#222" />
<ellipse cx="739.2" cy="531.2" rx="3.6" ry="14.5" stroke="#555" stroke-width="0.7" fill="none" />
</g>
<circle cx="711.4" cy="534.9" r="0.7" stroke="#666" stroke-width="0.6" fill="#888"/>
<line x1="675" y1="567.1" x2="711.4" y2="534.8" stroke="#444" stroke-width="0.9" />
<g transform="translate(735.5 530.6) rotate(4.8)">
<rect x="20.5" y="-6.3" width="22" height="12.6" rx="2" fill="#fff" stroke="#333" stroke-width="0.9"/>
<line x1="38.8" y1="-6.1" x2="38.8" y2="6.1" stroke="#555" stroke-width="0.8"/>
<rect x="11" y="-6.2" width="9.8" height="12.4" fill="#fff" stroke="#333" stroke-width="0.9"/>
<line x1="11" y1="-2.5" x2="20.8" y2="-2.5" stroke="#555" stroke-width="0.7"/>
<line x1="14" y1="-6.2" x2="14" y2="6.2" stroke="#555" stroke-width="0.7"/>
<rect x="0.5" y="-7.0" width="10.8" height="14.0" fill="#1c1c1c" stroke="#111" stroke-width="0.6"/>
<path d="M2 -5 L5 -5 M6.5 -3 L9.5 -3 M2 0 L4.5 0 M7 2 L10 2 M3 4.5 L6 4.5 M8 -5.5 L10.5 -5.5 M5.2 -6 L5.2 6" stroke="#bbb" stroke-width="0.9"/>
</g>
<path d="M708.1 559.3 L700.5 560.3 C699.2 560.5 698.9 561 698.9 562.5 L698.4 582.2 L680.6 597" stroke="#333" stroke-width="1.0" fill="none" />
<circle cx="670.2" cy="604.9" r="11.8" stroke="#555" stroke-width="0.9" fill="none"/>
<line x1="670.2" y1="596.05" x2="670.2" y2="606.0799999999999" stroke="#555" stroke-width="0.9" />
<line x1="660.76" y1="606.0799999999999" x2="679.6400000000001" y2="606.0799999999999" stroke="#555" stroke-width="0.9" />
<line x1="663.946" y1="609.856" x2="676.4540000000001" y2="609.856" stroke="#555" stroke-width="0.9" />
<line x1="666.306" y1="612.924" x2="674.094" y2="612.924" stroke="#555" stroke-width="0.9" />
<circle cx="823.9" cy="539.9" r="40.1" stroke="#444" stroke-width="0.9" fill="#fff"/>
<path d="M784.6 529 C783.4 533 783.2 541 784 546" stroke="#666" stroke-width="0.8" fill="none" />
<path d="M785.6 527.5 C784.9 529 784.6 530.5 784.5 532" stroke="#666" stroke-width="0.8" fill="none" />
<path d="M908.7 515.6 C904.5 521 900.5 531 898.4 542 C896.6 552 896.8 564 899.3 572.5 C900.4 576.5 901.6 579.5 903.3 580.4 C905.5 579.8 907.6 576 909.4 572 C911.2 568 912.8 564 913.8 560.3" stroke="#444" stroke-width="3.0" fill="none" />
<path d="M908.7 515.6 C904.5 521 900.5 531 898.4 542 C896.6 552 896.8 564 899.3 572.5 C900.4 576.5 901.6 579.5 903.3 580.4 C905.5 579.8 907.6 576 909.4 572 C911.2 568 912.8 564 913.8 560.3" stroke="#fff" stroke-width="1.1" fill="none" />
<path d="M907.3 514.9 L910.0 516.3" stroke="#555" stroke-width="0.8" fill="none" />
<path d="M912.9 559.9 L914.8 560.7" stroke="#555" stroke-width="0.8" fill="none" />
<line x1="889.3" y1="546.5" x2="919.8" y2="549.2" stroke="#1a1a1a" stroke-width="1.8" stroke-linecap="butt"/>
<path d="M878.6 545.2 L889.7 543.4 L888.7 549.7 Z" stroke="#444" stroke-width="0.8" fill="#fff" />
<circle cx="926.4" cy="607.1" r="0.5" stroke="#888" stroke-width="0.4" fill="#888"/>
<path d="M763 191.2 L793.5 191.2 L793.5 202.4 L763 202.4 C761.3 201.3 760.5 199 760.5 196.8 C760.5 194.6 761.3 192.3 763 191.2 Z" stroke="#1e1e1e" stroke-width="0.9" fill="#1e1e1e" />
<rect x="763.2" y="192.7" width="2.9" height="2.3" fill="#fff"/>
<rect x="763.8000000000001" y="198.3" width="2.9" height="2.3" fill="#fff"/>
<rect x="768.2" y="192.7" width="2.9" height="2.3" fill="#fff"/>
<rect x="768.8000000000001" y="198.3" width="2.9" height="2.3" fill="#fff"/>
<rect x="773.2" y="192.7" width="2.9" height="2.3" fill="#fff"/>
<rect x="773.8000000000001" y="198.3" width="2.9" height="2.3" fill="#fff"/>
<rect x="778.2" y="192.7" width="2.9" height="2.3" fill="#fff"/>
<rect x="778.8000000000001" y="198.3" width="2.9" height="2.3" fill="#fff"/>
<rect x="783.2" y="192.7" width="2.9" height="2.3" fill="#fff"/>
<rect x="783.8000000000001" y="198.3" width="2.9" height="2.3" fill="#fff"/>
<rect x="788.2" y="192.7" width="2.9" height="2.3" fill="#fff"/>
<rect x="788.8000000000001" y="198.3" width="2.9" height="2.3" fill="#fff"/>
<line x1="761.5" y1="196.8" x2="793" y2="196.8" stroke="#fff" stroke-width="0.7" />
<path d="M790.5 191.2 L794.2 188 L796 191.2 Z" stroke="#1e1e1e" stroke-width="0.8" fill="#1e1e1e" />
<path d="M790.5 202.4 L794.2 204.8 L796 202.4 Z" stroke="#1e1e1e" stroke-width="0.8" fill="#1e1e1e" />
<rect x="793.8" y="191.4" width="17.3" height="10.8" fill="#fff" stroke="#1e1e1e" stroke-width="1.3"/>
<rect x="796.2" y="193.6" width="12.4" height="6.4" fill="#fff" stroke="#1e1e1e" stroke-width="1.0"/>
<line x1="799.5" y1="193.6" x2="799.5" y2="200" stroke="#1e1e1e" stroke-width="0.9" />
<line x1="803" y1="193.6" x2="803" y2="200" stroke="#1e1e1e" stroke-width="0.9" />
<line x1="806" y1="195" x2="806" y2="198.6" stroke="#1e1e1e" stroke-width="0.8" />
<line x1="796.2" y1="196.8" x2="803" y2="196.8" stroke="#1e1e1e" stroke-width="0.8" />
<line x1="811.7" y1="189.8" x2="811.7" y2="203.4" stroke="#1e1e1e" stroke-width="1.7" />
<text x="788.0" y="216.6" font-size="8.4" fill="#444" text-anchor="start" font-style="italic">x2</text>
<g transform="translate(759.3 222.2) rotate(6.7)">
<path d="M0 0 L4 -2.2 L56 -2.4 L56 2.4 L4 2.2 Z" fill="#2a2a2a" stroke="#222" stroke-width="0.8"/>
<path d="M4.5 -3.1 L6.1 -2 M5.3 3.1 L6.7 2" stroke="#222" stroke-width="1.1"/>
<path d="M5.7 -1.0 L6.5 1.0" stroke="#bbb" stroke-width="0.6"/>
<path d="M7.5 -3.1 L9.1 -2 M8.3 3.1 L9.7 2" stroke="#222" stroke-width="1.1"/>
<path d="M8.7 -1.0 L9.5 1.0" stroke="#bbb" stroke-width="0.6"/>
<path d="M10.5 -3.1 L12.1 -2 M11.3 3.1 L12.7 2" stroke="#222" stroke-width="1.1"/>
<path d="M11.7 -1.0 L12.5 1.0" stroke="#bbb" stroke-width="0.6"/>
<path d="M13.5 -3.1 L15.1 -2 M14.3 3.1 L15.7 2" stroke="#222" stroke-width="1.1"/>
<path d="M14.7 -1.0 L15.5 1.0" stroke="#bbb" stroke-width="0.6"/>
<path d="M16.5 -3.1 L18.1 -2 M17.3 3.1 L18.7 2" stroke="#222" stroke-width="1.1"/>
<path d="M17.7 -1.0 L18.5 1.0" stroke="#bbb" stroke-width="0.6"/>
<path d="M19.5 -3.1 L21.1 -2 M20.3 3.1 L21.7 2" stroke="#222" stroke-width="1.1"/>
<path d="M20.7 -1.0 L21.5 1.0" stroke="#bbb" stroke-width="0.6"/>
<path d="M22.5 -3.1 L24.1 -2 M23.3 3.1 L24.7 2" stroke="#222" stroke-width="1.1"/>
<path d="M23.7 -1.0 L24.5 1.0" stroke="#bbb" stroke-width="0.6"/>
<path d="M25.5 -3.1 L27.1 -2 M26.3 3.1 L27.7 2" stroke="#222" stroke-width="1.1"/>
<path d="M26.7 -1.0 L27.5 1.0" stroke="#bbb" stroke-width="0.6"/>
<path d="M28.5 -3.1 L30.1 -2 M29.3 3.1 L30.7 2" stroke="#222" stroke-width="1.1"/>
<path d="M29.7 -1.0 L30.5 1.0" stroke="#bbb" stroke-width="0.6"/>
<path d="M31.5 -3.1 L33.1 -2 M32.3 3.1 L33.7 2" stroke="#222" stroke-width="1.1"/>
<path d="M32.7 -1.0 L33.5 1.0" stroke="#bbb" stroke-width="0.6"/>
<path d="M34.5 -3.1 L36.1 -2 M35.3 3.1 L36.7 2" stroke="#222" stroke-width="1.1"/>
<path d="M35.7 -1.0 L36.5 1.0" stroke="#bbb" stroke-width="0.6"/>
<path d="M37.5 -3.1 L39.1 -2 M38.3 3.1 L39.7 2" stroke="#222" stroke-width="1.1"/>
<path d="M38.7 -1.0 L39.5 1.0" stroke="#bbb" stroke-width="0.6"/>
<path d="M40.5 -3.1 L42.1 -2 M41.3 3.1 L42.7 2" stroke="#222" stroke-width="1.1"/>
<path d="M41.7 -1.0 L42.5 1.0" stroke="#bbb" stroke-width="0.6"/>
<path d="M43.5 -3.1 L45.1 -2 M44.3 3.1 L45.7 2" stroke="#222" stroke-width="1.1"/>
<path d="M44.7 -1.0 L45.5 1.0" stroke="#bbb" stroke-width="0.6"/>
<path d="M46.5 -3.1 L48.1 -2 M47.3 3.1 L48.7 2" stroke="#222" stroke-width="1.1"/>
<path d="M47.7 -1.0 L48.5 1.0" stroke="#bbb" stroke-width="0.6"/>
<path d="M49.5 -3.1 L51.1 -2 M50.3 3.1 L51.7 2" stroke="#222" stroke-width="1.1"/>
<path d="M50.7 -1.0 L51.5 1.0" stroke="#bbb" stroke-width="0.6"/>
<path d="M52.5 -3.1 L54.1 -2 M53.3 3.1 L54.7 2" stroke="#222" stroke-width="1.1"/>
<path d="M53.7 -1.0 L54.5 1.0" stroke="#bbb" stroke-width="0.6"/>
<rect x="56" y="-2.9" width="3.2" height="5.8" fill="#fff" stroke="#222" stroke-width="1.0"/>
</g>
<path d="M855.1 203.3 L862.3 204.9" stroke="#1e1e1e" stroke-width="1.125" fill="none" />
<g transform="translate(847.8 201.9) rotate(11)">
<rect x="0" y="-1.4" width="7.6" height="2.8" rx="1.2" fill="#222" stroke="#222" stroke-width="0.6"/>
<path d="M1.5 -1.2 L2.5 1.2 M3.6 -1.2 L4.6 1.2 M5.6 -1.2 L6.4 1.2" stroke="#aaa" stroke-width="0.6"/>
</g>
<path d="M862.3 204.9 L868.0 200.2 L875.2 200.0 L876.2 200.7 L881.6 201.9 L881.6 220.2 L878.8 219.0 L875.0 217.3 L866.1 213.0 Z" stroke="#1e1e1e" stroke-width="1.125" fill="#fff" />
<path d="M868.0 200.2 L866.8 203.1 L865.6 207.3 L866.1 213.0" stroke="#1e1e1e" stroke-width="1.0" fill="none" />
<path d="M875.2 200.0 Q878.4 209.1 875.0 217.3" stroke="#2a2a2a" stroke-width="0.8" fill="none" />
<path d="M876.2 200.7 Q879.6 209.7 878.8 219.0" stroke="#2a2a2a" stroke-width="0.8" fill="none" />
<path d="M882.3 205.5 L890.8 201.2 L923.8 209.7 L914.6 211.7 Z" stroke="#1e1e1e" stroke-width="1.1" fill="#fff" />
<path d="M889.8 203.2 L921.8 211.3" stroke="#1e1e1e" stroke-width="0.8" fill="none" />
<path d="M915.5 208.6 L923.2 210.6" stroke="#1e1e1e" stroke-width="1.6" fill="none" />
<path d="M882.3 205.5 L914.6 211.7 L911.4 217.2 L910.7 225.7 L882.6 219.5 Z" stroke="#1e1e1e" stroke-width="1.1" fill="#fff" />
<path d="M882.6 210.0 L911.4 217.5" stroke="#1e1e1e" stroke-width="0.9" fill="none" />
<path d="M882.6 219.5 L883.9 221.1 L904.2 226.0 L910.7 225.7 Z" stroke="#1e1e1e" stroke-width="0.9" fill="#fff" />
<path d="M914.6 211.7 L923.1 210.7 L923.8 209.7 L925.1 220.5 L926.7 227.7 L921.8 237.5 L915.3 226.4 L910.7 225.7 L911.4 217.2 Z" stroke="#1e1e1e" stroke-width="1.1" fill="#fff" />
<path d="M914.6 211.7 L923.1 210.7 L925.1 220.5" stroke="#1e1e1e" stroke-width="0.9" fill="none" />
<path d="M912.0 214.6 L914.0 221.1 L915.3 226.4" stroke="#1e1e1e" stroke-width="0.9" fill="none" />
<path d="M914.0 221.1 L924.4 218.9" stroke="#1e1e1e" stroke-width="0.9" fill="none" />
<path d="M915.3 226.4 L925.1 223.8" stroke="#1e1e1e" stroke-width="0.9" fill="none" />
<path d="M904.2 226.0 L904.5 232.9 L904.8 239.4 L906.8 240.1 L907.5 235.5 L916.6 238.5 L921.8 237.5 L915.3 226.4 L910.7 225.7 Z" stroke="#1e1e1e" stroke-width="1.1" fill="#fff" />
<path d="M904.5 232.9 L914.0 234.2 L916.6 232.3 L912.7 226.4" stroke="#1e1e1e" stroke-width="0.9" fill="none" />
<rect x="904.7" y="233.5" width="2.2" height="6" fill="#999" stroke="none"/>
<path d="M905.5 240.1 L907.5 235.5 L916.6 238.5 L921.8 237.5 L926.7 227.7 L928.5 240.0 L932.1 267.7 L928.8 269.0 L920.3 267.7 L913.8 262.5 Z" stroke="#1e1e1e" stroke-width="1.2" fill="#fff" />
<path d="M916.6 238.5 L917.8 246.0 L920.3 267.7" stroke="#1e1e1e" stroke-width="1.0" fill="none" />
<path d="M921.8 237.5 L924.5 250.0 L928.8 269.0" stroke="#1e1e1e" stroke-width="1.3" fill="none" />
<path d="M925.3 226.0 L927.0 240.0 L931.0 266.0" stroke="#1e1e1e" stroke-width="0.9" fill="none" />
<path d="M902.6 267.9 L905.3 265.9 L913.8 262.5 L916.0 266.0 L935.5 267.8 L921.6 273.0 Z" stroke="#1e1e1e" stroke-width="1.2" fill="#fff" />
<path d="M905.3 266.4 L913.8 262.5" stroke="#1e1e1e" stroke-width="1.2" fill="none" />
<path d="M906.5 268.0 L911.0 266.6 L929.0 268.6 L921.6 271.3" stroke="#1e1e1e" stroke-width="0.8" fill="none" />
<path d="M902.6 268.2 L921.6 273.2 L921.6 295.5 L902.6 290.6 Z" stroke="#1e1e1e" stroke-width="1.4" fill="#fff" />
<path d="M921.6 273.2 L935.7 268.0 L935.7 291.2 L921.6 295.5 Z" stroke="#1e1e1e" stroke-width="1.4" fill="#fff" />
<path d="M903.6 289.4 L921.2 293.9 L935.0 289.8" stroke="#1e1e1e" stroke-width="0.8" fill="none" />
</svg>
<div id="page"></div>
</body></html>
